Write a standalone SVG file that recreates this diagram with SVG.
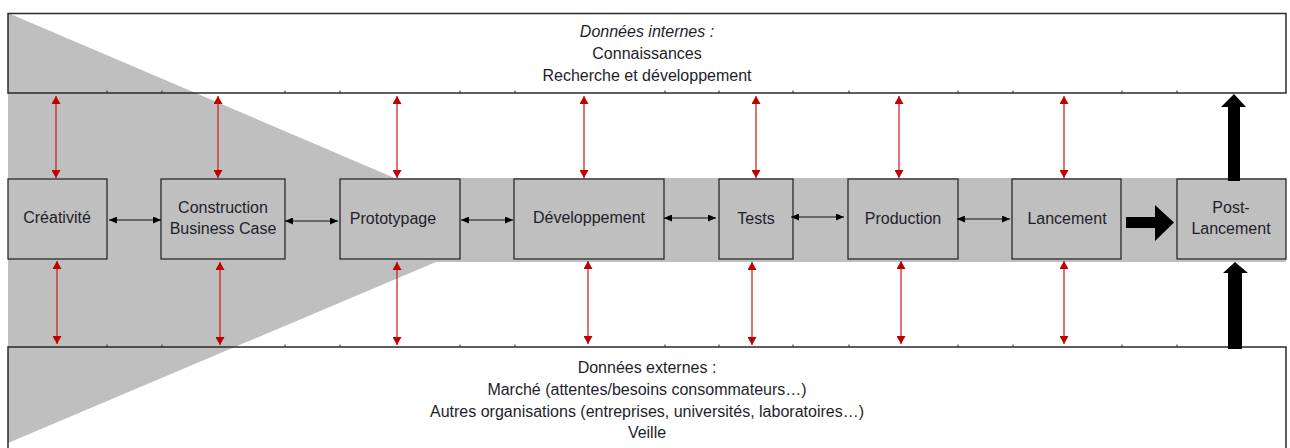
<svg xmlns="http://www.w3.org/2000/svg" width="1290" height="448" viewBox="0 0 1290 448">
<defs>
<style>
.frame{fill:none;stroke:#2a2a2a;stroke-width:1.5}
.node rect{fill:#bfbfbf;stroke:#2a2a2a;stroke-width:1.3}
.t{font-family:"Liberation Sans",Arial,sans-serif;font-size:16px;fill:#1e1e2a;text-anchor:middle}
.red{stroke:#c81818;stroke-width:1.2;fill:none;marker-start:url(#rh);marker-end:url(#rh)}
.blk{stroke:#111;stroke-width:1.2;fill:none;marker-start:url(#bh);marker-end:url(#bh)}
.tick{stroke:#2a2a2a;stroke-width:1}
</style>
<marker id="rh" viewBox="0 0 8 9" refX="8" refY="4.5" markerWidth="8" markerHeight="9" markerUnits="userSpaceOnUse" orient="auto-start-reverse">
<path d="M0,0 L8,4.5 L0,9 z" fill="#c00000"/>
</marker>
<marker id="bh" viewBox="0 0 8 7" refX="8" refY="3.5" markerWidth="8" markerHeight="7" markerUnits="userSpaceOnUse" orient="auto-start-reverse">
<path d="M0,0 L8,3.5 L0,7 z" fill="#000"/>
</marker>
</defs>
<rect width="1290" height="448" fill="#fff"/>
<g id="background">
<polygon points="8,13 514,229 8,443" fill="#bfbfbf"/>
<rect x="8" y="178" width="1278" height="84" fill="#bfbfbf"/>
</g>
<g id="internal">
<rect class="frame" x="8" y="13.5" width="1278" height="79.5"/>
<text class="t" x="647" y="37" font-style="italic">Données internes :</text>
<text class="t" x="647" y="59">Connaissances</text>
<text class="t" x="647" y="81">Recherche et développement</text>
</g>
<g id="external">
<path class="frame" d="M8,450 V347 H1286 V450"/>
<text class="t" x="647" y="373">Données externes :</text>
<text class="t" x="647" y="395">Marché (attentes/besoins consommateurs…)</text>
<text class="t" x="647" y="417">Autres organisations (entreprises, universités, laboratoires…)</text>
<text class="t" x="647" y="438">Veille</text>
</g>
<g id="ticks">
<path class="tick" d="M107,90.5V93 M162,90.5V93 M285,90.5V93 M340,90.5V93 M460,90.5V93 M515,90.5V93 M665,90.5V93 M719,90.5V93 M793,90.5V93 M849,90.5V93 M958,90.5V93 M1013,90.5V93 M1122,90.5V93 M1177,90.5V93"/>
<path class="tick" d="M107,344.5V347 M162,344.5V347 M285,344.5V347 M340,344.5V347 M460,344.5V347 M515,344.5V347 M665,344.5V347 M719,344.5V347 M793,344.5V347 M849,344.5V347 M958,344.5V347 M1013,344.5V347 M1122,344.5V347 M1177,344.5V347"/>
</g>
<g id="n-creativite" class="node"><rect x="8" y="179" width="99" height="80"/><text class="t" x="57" y="223">Créativité</text></g>
<g id="n-construction" class="node"><rect x="161" y="179" width="124" height="80"/><text class="t" x="223" y="213">Construction</text><text class="t" x="223" y="234">Business Case</text></g>
<g id="n-prototypage" class="node"><rect x="340" y="179" width="120" height="80"/><text class="t" x="393" y="224">Prototypage</text></g>
<g id="n-developpement" class="node"><rect x="514" y="179" width="150" height="80"/><text class="t" x="589" y="223">Développement</text></g>
<g id="n-tests" class="node"><rect x="719" y="179" width="74" height="80"/><text class="t" x="756" y="224">Tests</text></g>
<g id="n-production" class="node"><rect x="848" y="179" width="110" height="80"/><text class="t" x="903" y="224">Production</text></g>
<g id="n-lancement" class="node"><rect x="1012" y="179" width="109" height="80"/><text class="t" x="1067" y="224">Lancement</text></g>
<g id="n-postlancement" class="node"><rect x="1177" y="179" width="109" height="80"/><text class="t" x="1231" y="213">Post-</text><text class="t" x="1231" y="234">Lancement</text></g>
<g id="connectors">
<line class="red" x1="56" y1="96" x2="56" y2="178"/>
<line class="red" x1="218" y1="96" x2="218" y2="178"/>
<line class="red" x1="397" y1="96" x2="397" y2="178"/>
<line class="red" x1="584" y1="96" x2="584" y2="178"/>
<line class="red" x1="756" y1="96" x2="756" y2="178"/>
<line class="red" x1="899" y1="96" x2="899" y2="178"/>
<line class="red" x1="1064" y1="96" x2="1064" y2="178"/>
<line class="red" x1="57" y1="261" x2="57" y2="344"/>
<line class="red" x1="220" y1="262" x2="220" y2="345"/>
<line class="red" x1="397" y1="262" x2="397" y2="345"/>
<line class="red" x1="588" y1="261" x2="588" y2="344"/>
<line class="red" x1="752" y1="262" x2="752" y2="345"/>
<line class="red" x1="901" y1="261" x2="901" y2="344"/>
<line class="red" x1="1064" y1="261" x2="1064" y2="344"/>
<line class="blk" x1="109" y1="220" x2="161" y2="220"/>
<line class="blk" x1="285" y1="221" x2="338" y2="221"/>
<line class="blk" x1="461" y1="220" x2="513" y2="220"/>
<line class="blk" x1="664" y1="218" x2="716" y2="218"/>
<line class="blk" x1="791" y1="217" x2="844" y2="217"/>
<line class="blk" x1="957" y1="219" x2="1010" y2="219"/>
<polygon points="1126,217 1155,217 1155,205 1174,222.5 1155,241 1155,228 1126,228" fill="#000"/>
<polygon points="1228,181 1228,107 1221,107 1234,94 1246,107 1240,107 1240,181" fill="#000"/>
<polygon points="1228,349 1228,273 1223,273 1235,262 1248,273 1242,273 1242,349" fill="#000"/>
</g>
</svg>
